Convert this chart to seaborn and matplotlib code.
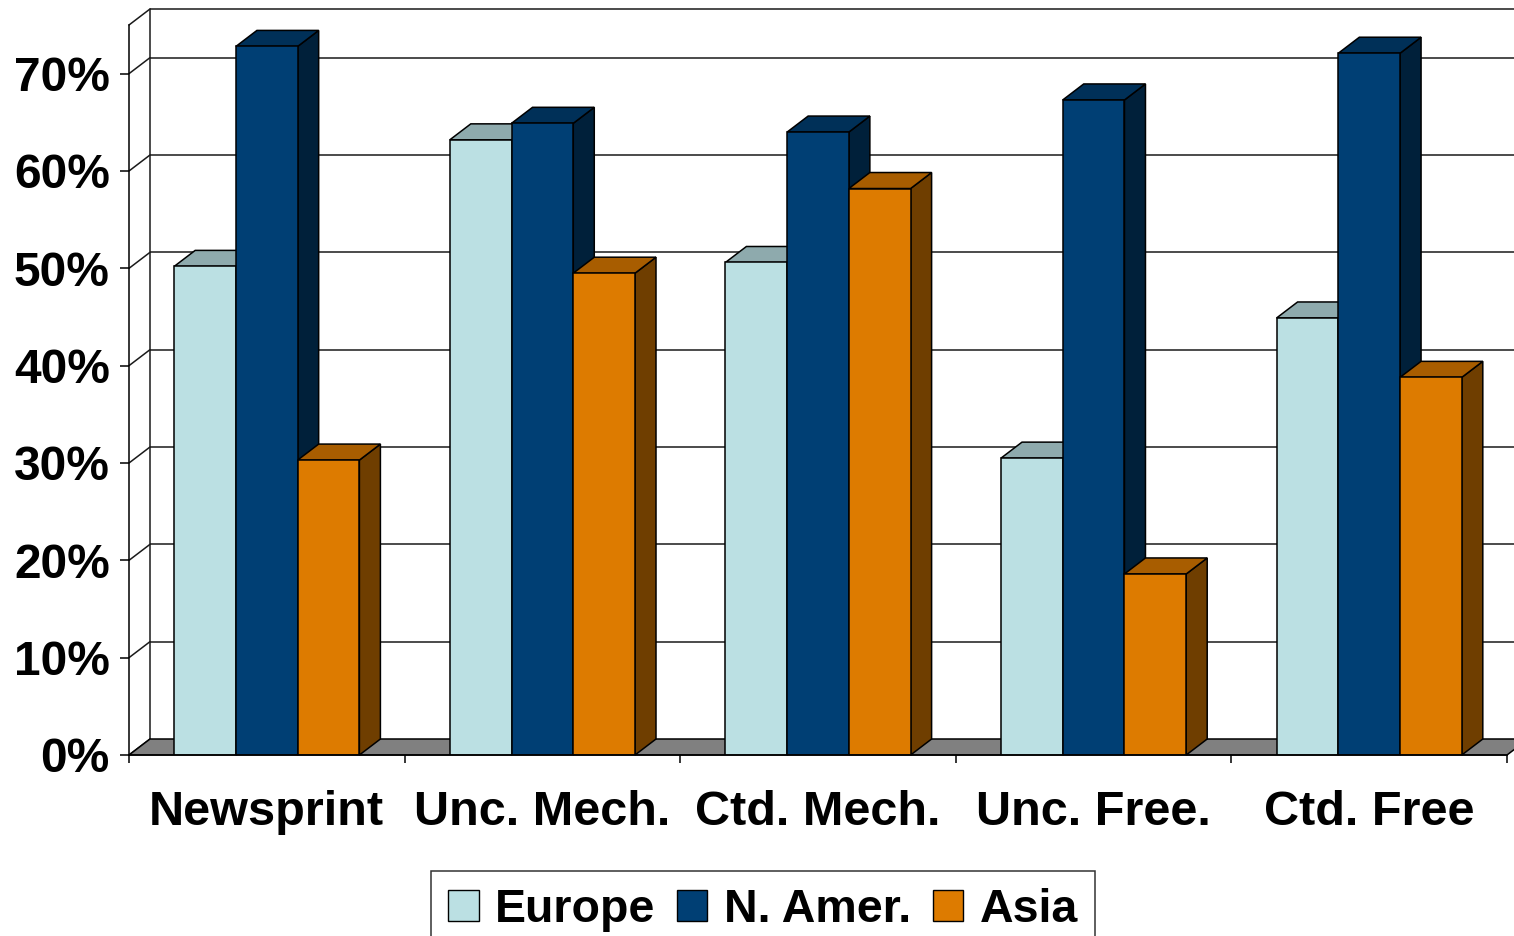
import numpy as np
import pandas as pd
import matplotlib
matplotlib.use("Agg")
import matplotlib.pyplot as plt
import seaborn as sns
from matplotlib.patches import Polygon, Patch
from matplotlib.colors import to_rgb

# Share of capacity by grade and region (%)
categories = ["Newsprint", "Unc. Mech.", "Ctd. Mech.", "Unc. Free.", "Ctd. Free"]
regions = ["Europe", "N. Amer.", "Asia"]
europe = [50.2, 63.2, 50.6, 30.5, 44.9]
n_amer = [72.8, 64.9, 64.0, 67.3, 72.1]
asia = [30.3, 49.5, 58.2, 18.6, 38.8]
y_ticks = [0, 10, 20, 30, 40, 50, 60, 70]
y_max = 75
colors = ["#BBE0E3", "#003F74", "#DD7B00"]

df = pd.DataFrame({
    "category": categories * 3,
    "region": np.repeat(regions, len(categories)),
    "share": europe + n_amer + asia,
})

sns.set_theme(style="ticks")
plt.rcParams["font.family"] = ["Liberation Sans", "DejaVu Sans"]
plt.rcParams["font.weight"] = "bold"

W, H = 1514, 936
fig = plt.figure(figsize=(W / 100, H / 100), dpi=100)
fig.patch.set_facecolor("white")

# front plane of the plot area, in pixels
left_px, right_px = 129, 1507
bottom_px, top_px = 755, 25
ax = fig.add_axes([left_px / W, 1 - bottom_px / H,
                   (right_px - left_px) / W, (bottom_px - top_px) / H])
ax.set_facecolor("none")

sns.barplot(data=df, x="category", y="share", hue="region",
            order=categories, hue_order=regions, palette=colors,
            width=0.672, edgecolor="black", linewidth=1.1,
            saturation=1, legend=False, ax=ax, zorder=3)

n = len(categories)
ax.set_xlim(-0.5, n - 0.5)
ax.set_ylim(0, y_max)

# depth offset of the pseudo-3D projection, in data units
DX = 21 / ((right_px - left_px) / n)
DY = 16 / ((bottom_px - top_px) / y_max)

EDGE = "black"
LW = 1.1


def shade(c, f):
    r, g, b = to_rgb(c)
    return (r * f, g * f, b * f)


# top and side faces of each column
for p in list(ax.patches):
    x, w, h = p.get_x(), p.get_width(), p.get_height()
    fc = p.get_facecolor()
    top = Polygon([(x, h), (x + w, h), (x + w + DX, h + DY), (x + DX, h + DY)],
                  closed=True, fc=shade(fc, 0.76), ec=EDGE, lw=LW,
                  zorder=2, clip_on=False)
    side = Polygon([(x + w, 0), (x + w, h), (x + w + DX, h + DY), (x + w + DX, DY)],
                   closed=True, fc=shade(fc, 0.5), ec=EDGE, lw=LW,
                   zorder=2, clip_on=False)
    ax.add_patch(side)
    ax.add_patch(top)

x_lo, x_hi = -0.5, n - 0.5

# floor
floor = Polygon([(x_lo, 0), (x_hi, 0), (x_hi + DX, DY), (x_lo + DX, DY)],
                closed=True, fc="#808080", ec=EDGE, lw=LW, zorder=1.5, clip_on=False)
ax.add_patch(floor)

# back wall gridlines and side wall diagonals
for v in y_ticks[1:] + [y_max]:
    ax.plot([x_lo + DX, x_hi + DX], [v + DY, v + DY], color="#1a1a1a", lw=LW,
            zorder=1, clip_on=False, solid_capstyle="butt")
for v in y_ticks + [y_max]:
    ax.plot([x_lo, x_lo + DX], [v, v + DY], color="#1a1a1a", lw=LW,
            zorder=1, clip_on=False)
ax.plot([x_lo + DX, x_lo + DX], [DY, y_max + DY], color="#1a1a1a", lw=LW,
        zorder=1, clip_on=False)

# axes styling
for s in ["top", "right"]:
    ax.spines[s].set_visible(False)
for s in ["left", "bottom"]:
    ax.spines[s].set_color("black")
    ax.spines[s].set_linewidth(LW)
    ax.spines[s].set_zorder(4)

ax.set_yticks(y_ticks)
ax.set_yticklabels([f"{v}%" for v in y_ticks], fontsize=34.5, fontweight="bold")
ax.tick_params(axis="y", left=True, length=6.5, width=LW, pad=7.4,
               direction="out", colors="black")

ax.set_xticks(range(n))
ax.set_xticklabels(categories, fontsize=35, fontweight="bold")
ax.set_xticks(np.arange(n + 1) - 0.5, minor=True)
ax.tick_params(axis="x", which="major", length=0, pad=25, colors="black")
ax.tick_params(axis="x", which="minor", bottom=True, length=5.8, width=LW,
               direction="out", color="black")
ax.set_xlabel("")
ax.set_ylabel("")

handles = [Patch(facecolor=c, edgecolor="black", linewidth=1.0) for c in colors]
leg = fig.legend(handles, regions, loc="upper center",
                 bbox_to_anchor=(763 / W, 1 - 871 / H), ncol=3,
                 frameon=True, fancybox=False, edgecolor="black",
                 prop={"size": 33.5, "weight": "bold"}, labelcolor="black",
                 handlelength=0.65, handleheight=0.65, handletextpad=0.35,
                 columnspacing=0.47, borderpad=0.37, borderaxespad=0)
leg.get_frame().set_linewidth(LW)
leg.get_frame().set_facecolor("white")

fig.savefig("out.png", dpi=100, facecolor="white")
